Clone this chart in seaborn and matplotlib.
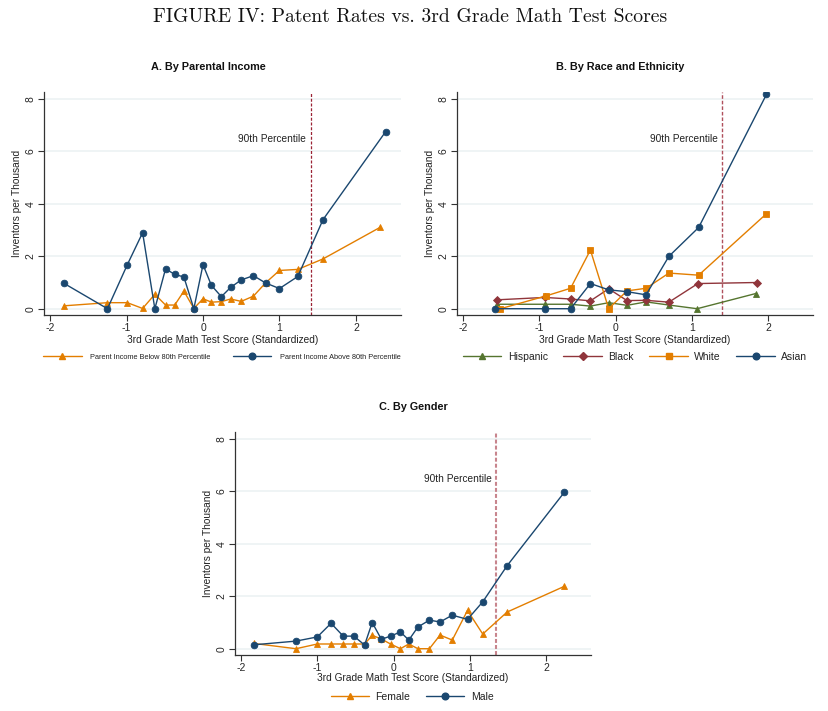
import matplotlib
matplotlib.use("Agg")
import matplotlib.pyplot as plt
from matplotlib.lines import Line2D
import seaborn as sns
import pandas as pd

# ---------------- data ----------------
# Panel A: by parental income
a_below_x = [-1.82, -1.25, -0.99, -0.79, -0.63, -0.49, -0.37, -0.25, -0.12, 0.00,
             0.11, 0.24, 0.36, 0.50, 0.66, 0.82, 1.00, 1.24, 1.57, 2.32]
a_below_y = [0.11, 0.23, 0.23, 0.01, 0.55, 0.14, 0.14, 0.67, 0.01, 0.38,
             0.25, 0.27, 0.37, 0.28, 0.48, 0.99, 1.46, 1.50, 1.90, 3.11]
a_above_x = [-1.82, -1.25, -0.99, -0.79, -0.63, -0.49, -0.37, -0.25, -0.12, 0.00,
             0.11, 0.24, 0.36, 0.50, 0.66, 0.82, 1.00, 1.24, 1.57, 2.39]
a_above_y = [0.97, 0.00, 1.68, 2.90, 0.00, 1.52, 1.31, 1.21, 0.00, 1.68,
             0.89, 0.46, 0.81, 1.10, 1.26, 0.98, 0.77, 1.23, 3.40, 6.76]

# Panel B: by race and ethnicity
b_hisp_x = [-1.55, -0.93, -0.59, -0.33, -0.09, 0.15, 0.40, 0.70, 1.07, 1.84]
b_hisp_y = [0.17, 0.17, 0.17, 0.10, 0.23, 0.13, 0.26, 0.14, 0.00, 0.58]
b_black_x = [-1.55, -0.93, -0.59, -0.33, -0.09, 0.15, 0.40, 0.70, 1.08, 1.85]
b_black_y = [0.34, 0.43, 0.37, 0.30, 0.76, 0.31, 0.32, 0.25, 0.96, 1.00]
b_white_x = [-1.51, -0.91, -0.59, -0.33, -0.09, 0.15, 0.40, 0.70, 1.09, 1.97]
b_white_y = [0.00, 0.49, 0.78, 2.24, 0.00, 0.68, 0.78, 1.36, 1.28, 3.60]
b_asian_x = [-1.58, -0.93, -0.59, -0.33, -0.09, 0.15, 0.40, 0.70, 1.09, 1.98]
b_asian_y = [0.00, 0.00, 0.00, 0.96, 0.72, 0.65, 0.53, 2.00, 3.10, 8.18]

# Panel C: by gender
c_x = [-1.83, -1.28, -1.00, -0.82, -0.66, -0.52, -0.38, -0.28, -0.16, -0.04,
       0.09, 0.20, 0.32, 0.47, 0.61, 0.77, 0.97, 1.17, 1.49, 2.24]
c_female_y = [0.20, 0.00, 0.18, 0.18, 0.18, 0.18, 0.18, 0.51, 0.37, 0.18,
              0.00, 0.18, 0.00, 0.00, 0.52, 0.33, 1.46, 0.56, 1.40, 2.38]
c_male_y = [0.15, 0.29, 0.45, 0.97, 0.48, 0.48, 0.14, 1.00, 0.36, 0.48,
            0.64, 0.33, 0.83, 1.09, 1.02, 1.28, 1.12, 1.79, 3.17, 5.97]

p90 = [1.41, 1.40, 1.35]
y_ticks = [0, 2, 4, 6, 8]
x_ticks = [-2, -1, 0, 1, 2]

main_title = "FIGURE IV: Patent Rates vs. 3rd Grade Math Test Scores"
panel_titles = ["A. By Parental Income", "B. By Race and Ethnicity", "C. By Gender"]
x_label = "3rd Grade Math Test Score (Standardized)"
y_label = "Inventors per Thousand"
pct_label = "90th Percentile"

# ---------------- style ----------------
NAVY = "#1a476f"
ORANGE = "#e37e00"
MAROON = "#90353b"
GREEN = "#55752f"
GRID = "#eef3f5"

sns.set_theme(style="white")
plt.rcParams["font.family"] = ["Liberation Sans", "DejaVu Sans"]
plt.rcParams["axes.unicode_minus"] = False

W, H = 829, 711
fig = plt.figure(figsize=(W / 100, H / 100), dpi=100)


def fx(px):
    return px / W


def fy(py):
    return 1 - py / H


axA = fig.add_axes([fx(44), fy(315), fx(401) - fx(44), fy(92) - fy(315)])
axB = fig.add_axes([fx(457), fy(315), fx(813) - fx(457), fy(92) - fy(315)])
axC = fig.add_axes([fx(235), fy(655), fx(591) - fx(235), fy(432) - fy(655)])


def series(ax, x, y, color, marker, ms):
    df = pd.DataFrame({"x": x, "y": y})
    sns.lineplot(data=df, x="x", y="y", ax=ax, sort=False, color=color,
                 marker=marker, markersize=ms, markeredgecolor=color,
                 markeredgewidth=0.6, linewidth=1.0, errorbar=None)


def style_axis(ax, vline, vcolor, vlw, vdash):
    ax.set_xlim(-2.08, 2.59)
    ax.set_ylim(-0.24, 8.27)
    ax.set_xticks(x_ticks)
    ax.set_yticks(y_ticks)
    ax.set_xticklabels([str(t) for t in x_ticks])
    ax.set_yticklabels([str(t) for t in y_ticks])
    for t in y_ticks:
        ax.axhline(t, color=GRID, linewidth=1.3, zorder=0)
    for s in ["top", "right"]:
        ax.spines[s].set_visible(False)
    for s in ["left", "bottom"]:
        ax.spines[s].set_color("#333333")
        ax.spines[s].set_linewidth(0.9)
    ax.tick_params(axis="both", direction="out", length=4, width=0.8,
                   color="#333333", labelsize=7.5, pad=2, bottom=True, left=True)
    ax.tick_params(axis="y", labelrotation=90)
    for lab in ax.get_yticklabels():
        lab.set_va("center")
    ax.axvline(vline, color=vcolor, linewidth=vlw, linestyle=(0, vdash), zorder=1)
    ax.text(vline - 0.06, 6.48, pct_label, ha="right", va="center", fontsize=7.3,
            color="#222222")
    ax.set_xlabel(x_label, fontsize=7.3, color="#222222")
    ax.set_ylabel(y_label, fontsize=7.3, color="#222222")
    ax.xaxis.set_label_coords(0.5, -0.112)
    ax.xaxis.label.set_va("center")
    ax.yaxis.set_label_coords(-0.076, 0.5)
    ax.yaxis.label.set_va("center")
    ax.set_facecolor("white")


# Panel A
series(axA, a_below_x, a_below_y, ORANGE, "^", 5)
series(axA, a_above_x, a_above_y, NAVY, "o", 4.8)
style_axis(axA, p90[0], "#9b2335", 0.9, (2.4, 1.4))

# Panel B
series(axB, b_hisp_x, b_hisp_y, GREEN, "^", 5)
series(axB, b_black_x, b_black_y, MAROON, "D", 4.2)
series(axB, b_white_x, b_white_y, ORANGE, "s", 4.8)
series(axB, b_asian_x, b_asian_y, NAVY, "o", 4.8)
style_axis(axB, p90[1], "#b0505c", 1.0, (2.6, 1.4))

# Panel C
series(axC, c_x, c_female_y, ORANGE, "^", 5)
series(axC, c_x, c_male_y, NAVY, "o", 4.8)
style_axis(axC, p90[2], "#c8858d", 1.5, (1.9, 1.0))
axC.xaxis.set_label_coords(0.5, -0.103)


def handle(color, marker, ms):
    return Line2D([0], [0], color=color, marker=marker, markersize=ms,
                  markeredgecolor=color, linewidth=1.0)


legA = fig.legend([handle(ORANGE, "^", 5), handle(NAVY, "o", 4.8)],
                  ["Parent Income Below 80th Percentile", "Parent Income Above 80th Percentile"],
                  loc="center", bbox_to_anchor=(fx(222), fy(357)), ncol=2, frameon=False,
                  fontsize=5.3, handlelength=5.2, columnspacing=3.0, handletextpad=1.2,
                  labelcolor="#222222")
legB = fig.legend([handle(GREEN, "^", 5), handle(MAROON, "D", 4.2),
                   handle(ORANGE, "s", 4.8), handle(NAVY, "o", 4.8)],
                  ["Hispanic", "Black", "White", "Asian"],
                  loc="center", bbox_to_anchor=(fx(635), fy(357)), ncol=4, frameon=False,
                  fontsize=7.5, handlelength=3.7, columnspacing=1.5, handletextpad=0.6,
                  labelcolor="#222222")
legC = fig.legend([handle(ORANGE, "^", 5), handle(NAVY, "o", 4.8)],
                  ["Female", "Male"],
                  loc="center", bbox_to_anchor=(fx(412), fy(697)), ncol=2, frameon=False,
                  fontsize=7.5, handlelength=3.7, columnspacing=1.5, handletextpad=0.6,
                  labelcolor="#222222")

fig.text(fx(410), fy(17), main_title, ha="center", va="center", fontsize=14.2,
         family="cmr10", color="#111111")
fig.text(fx(208), fy(67), panel_titles[0], ha="center", va="center", fontsize=7.8,
         fontweight="bold", color="#111111")
fig.text(fx(620), fy(67), panel_titles[1], ha="center", va="center", fontsize=7.8,
         fontweight="bold", color="#111111")
fig.text(fx(413), fy(407), panel_titles[2], ha="center", va="center", fontsize=7.8,
         fontweight="bold", color="#111111")

fig.savefig("out.png", dpi=100, facecolor="white")
